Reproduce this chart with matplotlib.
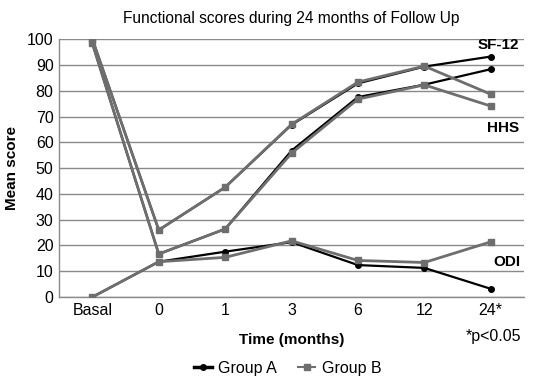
import numpy as np
import matplotlib.pyplot as plt

# data
time_labels = ['Basal', '0', '1', '3', '6', '12', '24*']

sf12_a = [100, 26, 42.6, 66.8, 82.9, 89.4, 93.3]
sf12_b = [100, 26, 42.6, 67.0, 83.4, 89.6, 78.7]
hhs_a = [98.4, 16.7, 26.4, 56.8, 77.6, 82.4, 88.4]
hhs_b = [98.4, 16.7, 26.4, 55.8, 76.8, 82.3, 74.1]
odi_a = [0, 13.7, 17.6, 21.3, 12.4, 11.3, 3.2]
odi_b = [0, 13.7, 15.4, 21.8, 14.2, 13.4, 21.4]

plt.rcParams['font.family'] = ['Liberation Sans', 'DejaVu Sans']

fig = plt.figure(figsize=(5.33, 3.76), dpi=100)
ax = fig.add_axes([0.111, 0.21, 0.872, 0.6855])

x = np.arange(len(time_labels))
grey = '#6e6e6e'

# group B first, group A on top like the original
for vals in (sf12_b, hhs_b, odi_b):
    ax.plot(x, vals, color=grey, lw=2, marker='s', ms=4, zorder=3)
for vals in (sf12_a, hhs_a, odi_a):
    ax.plot(x, vals, color='black', lw=1.6, marker='o', ms=4, zorder=2)

ax.set_xlim(-0.5, len(x) - 0.5)
ax.set_ylim(0, 100)
ax.set_yticks(np.arange(0, 101, 10))
ax.set_xticks(x)
ax.set_xticklabels(time_labels)
ax.tick_params(length=0, labelsize=11.5, pad=4)
ax.yaxis.grid(True, color='#8a8a8a', lw=1)
ax.set_axisbelow(True)
for s in ('top', 'right'):
    ax.spines[s].set_visible(False)
for s in ('left', 'bottom'):
    ax.spines[s].set_color('#8a8a8a')
    ax.spines[s].set_linewidth(1)

ax.set_ylabel('Mean score', fontsize=11, fontweight='bold', labelpad=6)
ax.set_xlabel('Time (months)', fontsize=11, fontweight='bold', labelpad=11)
ax.set_title('Functional scores during 24 months of Follow Up', fontsize=11.2, pad=12)

ax.text(6.11, 97.8, 'SF-12', fontsize=11, fontweight='bold', ha='center', va='center')
ax.text(6.18, 65.7, 'HHS', fontsize=11, fontweight='bold', ha='center', va='center')
ax.text(6.24, 13.6, 'ODI', fontsize=11, fontweight='bold', ha='center', va='center')
fig.text(0.978, 0.106, '*p<0.05', fontsize=11.5, ha='right', va='center')

h_a, = ax.plot([], [], color='black', lw=2.5, marker='o', ms=4)
h_b, = ax.plot([], [], color=grey, lw=1.5, marker='s', ms=4)
fig.legend([h_a, h_b], ['Group A', 'Group B'], loc='center', bbox_to_anchor=(0.54, 0.02),
           ncol=2, frameon=False, fontsize=11.5, handlelength=1.1, columnspacing=1.3,
           handletextpad=0.4)

fig.savefig('out.png', dpi=100)
